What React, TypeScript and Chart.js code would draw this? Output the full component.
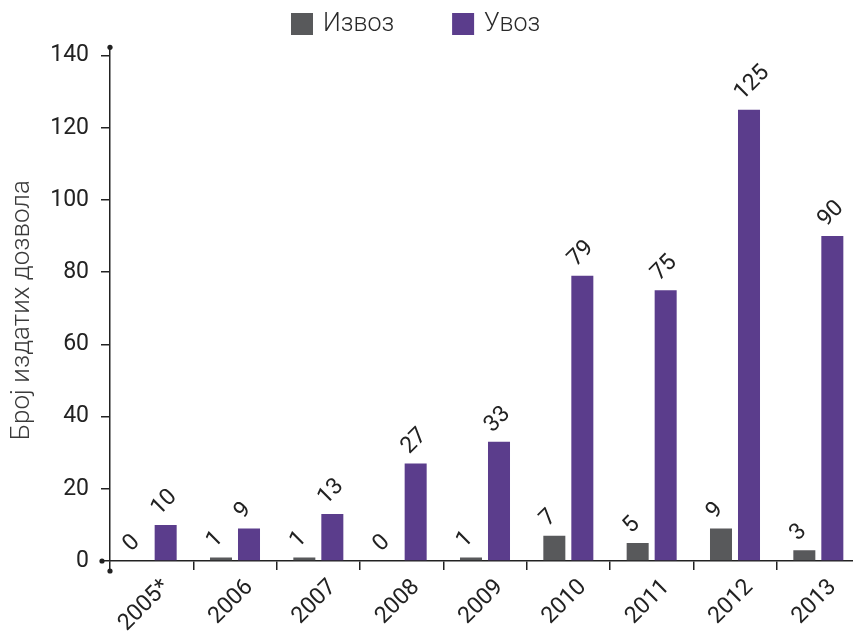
import React, { useEffect, useRef } from 'react';
import { Chart, registerables } from 'chart.js';

Chart.register(...registerables);

const categories = ['2005*', '2006', '2007', '2008', '2009', '2010', '2011', '2012', '2013'];
const exportValues = [0, 1, 1, 0, 1, 7, 5, 9, 3];
const importValues = [10, 9, 13, 27, 33, 79, 75, 125, 90];
const yTickValues = [0, 20, 40, 60, 80, 100, 120, 140];
const seriesNames = ['Извоз', 'Увоз'];
const yTitle = 'Број издатих дозвола';

const GRAY = '#58595b';
const PURPLE = '#5b3d8c';
const AXIS = '#222222';
const FONT = 'Roboto, "DejaVu Sans", sans-serif';

const decorPlugin = {
  id: 'decor',
  afterDraw(chart: any) {
    const ctx = chart.ctx;
    const area = chart.chartArea;
    ctx.save();
    // axis end dots
    ctx.fillStyle = AXIS;
    const dots = [
      [area.left, area.top],
      [area.left - 8, area.bottom],
      [area.left, area.bottom + 10],
    ];
    dots.forEach(([x, y]) => {
      ctx.beginPath();
      ctx.arc(x, y, 2.6, 0, Math.PI * 2);
      ctx.fill();
    });
    // legend
    ctx.font = `300 25px ${FONT}`;
    ctx.textBaseline = 'middle';
    ctx.textAlign = 'left';
    let x = 291;
    const colors = [GRAY, PURPLE];
    seriesNames.forEach((name, i) => {
      ctx.fillStyle = colors[i];
      ctx.fillRect(x, 13, 22, 22);
      ctx.fillStyle = '#2a2a2a';
      ctx.fillText(name, x + 32, 25);
      x += 32 + ctx.measureText(name).width + 58;
    });
    // y title
    ctx.save();
    ctx.translate(22, (area.top + area.bottom) / 2 + 6);
    ctx.rotate(-Math.PI / 2);
    ctx.font = `300 26px ${FONT}`;
    ctx.fillStyle = '#3a3a3a';
    ctx.textAlign = 'center';
    ctx.textBaseline = 'middle';
    ctx.fillText(yTitle, 0, 0);
    ctx.restore();
    // data labels
    ctx.font = `400 23px ${FONT}`;
    ctx.fillStyle = '#222222';
    ctx.textAlign = 'left';
    ctx.textBaseline = 'middle';
    chart.data.datasets.forEach((ds: any, di: number) => {
      const meta = chart.getDatasetMeta(di);
      meta.data.forEach((bar: any, i: number) => {
        const v = ds.data[i];
        ctx.save();
        ctx.translate(bar.x - 10.5, bar.y - 13);
        ctx.rotate(-Math.PI / 4);
        ctx.fillText(String(v), 0, 0);
        ctx.restore();
      });
    });
    ctx.restore();
  },
};

export default function App() {
  const ref = useRef<HTMLCanvasElement | null>(null);

  useEffect(() => {
    if (!ref.current) return;
    const chart = new Chart(ref.current, {
      type: 'bar',
      data: {
        labels: categories,
        datasets: [
          {
            label: seriesNames[0],
            data: exportValues,
            backgroundColor: GRAY,
            categoryPercentage: 0.672,
            barPercentage: 0.786,
          },
          {
            label: seriesNames[1],
            data: importValues,
            backgroundColor: PURPLE,
            categoryPercentage: 0.672,
            barPercentage: 0.786,
          },
        ],
      },
      options: {
        responsive: true,
        maintainAspectRatio: false,
        animation: false,
        devicePixelRatio: 1,
        layout: { padding: { top: 47.3, right: 20, left: 0, bottom: 0 } },
        plugins: {
          legend: { display: false },
          tooltip: { enabled: false },
        },
        scales: {
          x: {
            offset: true,
            grid: {
              display: true,
              offset: true,
              drawOnChartArea: false,
              drawTicks: true,
              tickLength: 9,
              color: AXIS,
              lineWidth: 1.5,
            },
            border: { display: true, color: AXIS, width: 1.5 },
            ticks: {
              autoSkip: false,
              minRotation: 45,
              maxRotation: 45,
              padding: 4,
              labelOffset: 14.5,
              color: '#222222',
              font: { family: FONT, size: 23, weight: '400' },
            },
            afterFit: (scale: any) => {
              scale.height = 75;
            },
          },
          y: {
            min: 0,
            max: 142.3,
            afterBuildTicks: (axis: any) => {
              axis.ticks = yTickValues.map((v) => ({ value: v }));
            },
            grid: {
              display: true,
              drawOnChartArea: false,
              drawTicks: true,
              tickLength: 9,
              color: AXIS,
              lineWidth: 1.5,
            },
            border: { display: true, color: AXIS, width: 1.5 },
            ticks: {
              padding: 12,
              color: '#222222',
              font: { family: FONT, size: 23, weight: '400' },
            },
            afterFit: (scale: any) => {
              scale.width = 110;
            },
          },
        },
      },
      plugins: [decorPlugin],
    });
    return () => chart.destroy();
  }, []);

  return (
    <div
      style={{
        position: 'fixed',
        left: 0,
        top: 0,
        width: 853,
        height: 636,
        overflow: 'hidden',
        background: '#fff',
      }}
    >
      <div style={{ position: 'relative', width: 880, height: 636 }}>
        <canvas ref={ref} />
      </div>
    </div>
  );
}
